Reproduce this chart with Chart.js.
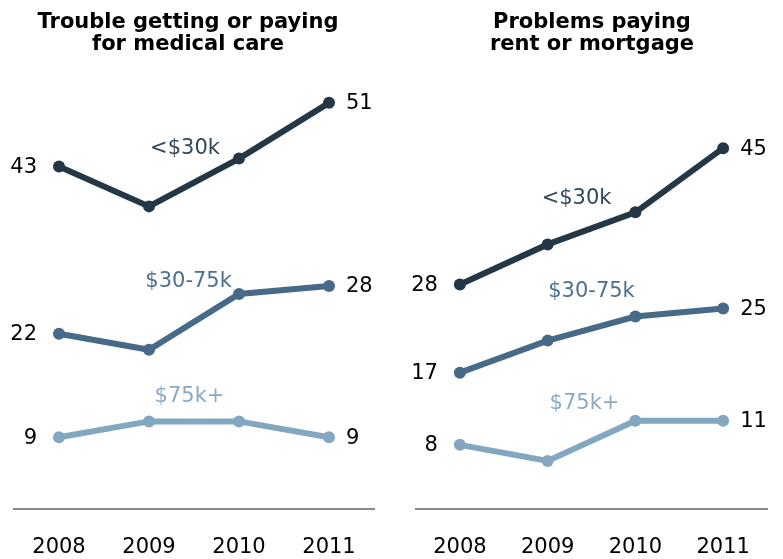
<!DOCTYPE html>
<html lang="en">
<head>
  <meta charset="UTF-8" />
  <title>Financial strain by income</title>
  <script src="https://cdn.jsdelivr.net/npm/chart.js"></script>
  <style>
    body { margin: 0; background: #fff; font-family: "DejaVu Sans", Verdana, sans-serif; }
    .wrap { position: relative; width: 783px; height: 559px; }
    .panel { position: absolute; top: 0; height: 559px; }
    .panel-title {
      position: absolute; top: 10px; width: 392px; text-align: center;
      font-weight: bold; font-size: 21px; line-height: 22px; color: #000;
    }
  </style>
</head>
<body>
  <div class="wrap">
    <div class="panel" style="left:0;width:391px"><canvas id="medChart" width="391" height="559"></canvas></div>
    <div class="panel" style="left:391px;width:392px"><canvas id="rentChart" width="392" height="559"></canvas></div>
    <div class="panel-title" style="left:-8px">Trouble getting or paying<br>for medical care</div>
    <div class="panel-title" style="left:396px">Problems paying<br>rent or mortgage</div>
  </div>

  <script>
    const years = ["2008", "2009", "2010", "2011"];
    const groups = ["<$30k", "$30-75k", "$75k+"];

    // medical care
    const medLow = [43, 38, 44, 51];
    const medMid = [22, 20, 27, 28];
    const medHigh = [9, 11, 11, 9];

    // rent or mortgage
    const rentLow = [28, 33, 37, 45];
    const rentMid = [17, 21, 24, 25];
    const rentHigh = [8, 6, 11, 11];

    const lineColors = ["#243746", "#466a87", "#84a7c1"];
    const textColors = ["#34485a", "#4c7090", "#8aaac4"];
    const FONT = '"DejaVu Sans", Verdana, sans-serif';

    // labels drawn beside the first and last point, and the group name over each line
    const lineLabels = {
      id: "lineLabels",
      afterDatasetsDraw(chart, args, opts) {
        const ctx = chart.ctx;
        const xs = chart.scales.x, ys = chart.scales.y;
        ctx.save();
        ctx.font = "21px " + FONT;
        ctx.textBaseline = "middle";
        chart.data.datasets.forEach((ds, i) => {
          const d = ds.data;
          const last = d.length - 1;
          ctx.fillStyle = "#000";
          ctx.textAlign = "right";
          ctx.fillText(d[0], xs.getPixelForValue(0) - 22, ys.getPixelForValue(d[0]) + 1);
          ctx.textAlign = "left";
          ctx.fillText(d[last], xs.getPixelForValue(last) + 17, ys.getPixelForValue(d[last]) + 1);

          const at = opts.anchors[i];
          ctx.fillStyle = textColors[i];
          ctx.textAlign = "center";
          ctx.fillText(ds.label, xs.getPixelForValue(at[0]), ys.getPixelForValue(at[1]));
        });
        ctx.restore();
      }
    };

    function makeChart(id, series, anchors, padLeft, padRight, padTop) {
      new Chart(document.getElementById(id), {
        type: "line",
        data: {
          labels: years,
          datasets: series.map((s, i) => ({
            label: groups[i],
            data: s,
            borderColor: lineColors[i],
            backgroundColor: lineColors[i],
            pointBackgroundColor: lineColors[i],
            pointBorderWidth: 0,
            pointRadius: 6,
            borderWidth: 6,
            tension: 0,
            clip: false
          }))
        },
        options: {
          responsive: false,
          animation: false,
          events: [],
          layout: { padding: { left: padLeft, right: padRight, top: padTop, bottom: 0 } },
          plugins: {
            legend: { display: false },
            tooltip: { enabled: false },
            lineLabels: { anchors: anchors }
          },
          scales: {
            x: {
              offset: true,
              grid: { display: false, drawTicks: false },
              border: { display: true, color: "#8a8a8a", width: 2 },
              ticks: { color: "#000", font: { family: FONT, size: 21 }, padding: 26, maxRotation: 0 },
              afterFit(scale) { scale.height = 50; }
            },
            y: { display: false, min: 0, max: 55 }
          }
        },
        plugins: [lineLabels]
      });
    }

    makeChart("medChart", [medLow, medMid, medHigh],
      [[1.4, 45.3], [1.44, 28.6], [1.45, 14.1]], 14, 17, 71);
    makeChart("rentChart", [rentLow, rentMid, rentHigh],
      [[1.33, 38.7], [1.5, 27.1], [1.42, 13.1]], 25, 16, 68);
  </script>
</body>
</html>
